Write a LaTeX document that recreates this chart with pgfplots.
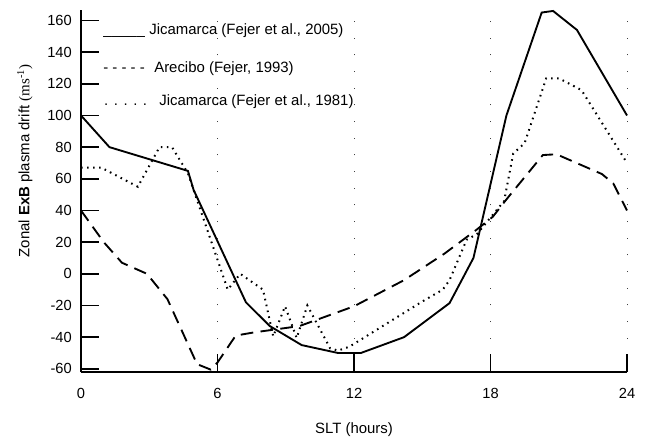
\documentclass[border=0pt]{standalone}
\usepackage{fontspec}
\setmainfont{Liberation Sans}
\newfontfamily\seriffont{Liberation Serif}
\usepackage{pgfplots}
\pgfplotsset{compat=1.18}
\begin{document}
\fontsize{11.2}{13}\selectfont
\begin{tikzpicture}
\path[use as bounding box] (-60.75pt,-48.75pt) rectangle (423pt,279pt);
\begin{axis}[
  at={(0pt,0pt)}, anchor=south west,
  scale only axis, width=409.5pt, height=271.5pt,
  xmin=0, xmax=24, ymin=-62, ymax=166.6,
  axis x line=bottom, axis y line=left,
  axis line style={-, line width=1.6pt},
  xtick={0,6,12,18,24}, ytick={-60,-40,...,160},
  tick align=inside, major tick length=13.5pt,
  tick style={line width=1.4pt, black},
  xmajorgrids,
  grid style={black!75, line width=0.7pt, dash pattern=on 0.7pt off 11.8pt},
  ticklabel style={font=\fontsize{11}{13}\selectfont},
  xticklabel style={yshift=-8pt},
  yticklabel style={xshift=-3pt},
  /pgf/number format/assume math mode=true,
  xlabel={SLT (hours)},
  xlabel style={at={(axis description cs:0.5,-0.16)}, anchor=center},
  ylabel={Zonal \textbf{ExB} plasma drift {\seriffont(ms\textsuperscript{-1})}},
  ylabel style={at={(axis description cs:-0.1026,0.583)}, anchor=center},
  clip=false,
]
% Jicamarca (Fejer et al., 2005)
\addplot[black, line width=1.4pt] coordinates {
 (0,100) (1.25,80) (4.7,65) (4.95,53) (7.25,-18) (8.3,-33) (9.7,-45)
 (11.3,-50) (12.3,-50) (14.2,-40) (16.2,-18.5) (17.25,10) (18.7,100)
 (20.25,165) (20.75,166) (21.8,154) (24,100)
};
% Arecibo (Fejer, 1993)
\addplot[black, line width=1.4pt, dash pattern=on 9.5pt off 5.5pt] coordinates {
 (0,40) (1.0,20) (1.8,7) (2.9,0) (3.8,-16) (5.1,-57) (5.7,-60.5) (6.0,-56)
 (6.8,-39) (7.6,-37) (9.6,-33) (12,-20.5) (14.2,-4) (16,13) (17.4,28)
 (18.1,36) (18.7,47) (20.3,75) (20.9,75.5) (22.9,63) (23.4,57) (24,40)
};
% Jicamarca (Fejer et al., 1981)
\addplot[black, line width=1.5pt, dash pattern=on 1.2pt off 3.3pt] coordinates {
 (0,67) (0.9,67) (2.5,55) (3.45,80) (4.0,80) (4.7,63.5) (6.45,-10) (7.0,0)
 (8.0,-10) (8.45,-39.5) (8.97,-20.5) (9.48,-40.5) (9.95,-20) (10.95,-47)
 (11.3,-48.5) (11.8,-46) (15.0,-17.5) (15.9,-10) (16.2,-4) (16.95,21.5)
 (17.4,25) (18.6,46) (19.0,76) (19.5,82.5) (20.45,123.5) (21.0,123.5)
 (22.0,116) (24,70)
};
\node[anchor=base west, inner sep=0pt] at (axis cs:0.97,151.2) {\_\_\_\_\_};
\node[anchor=base west, inner sep=0pt] at (axis cs:2.99,151.2) {Jicamarca (Fejer et al., 2005)};
\node[anchor=base west, inner sep=0pt] at (axis cs:0.97,127.2) {- - - - -};
\node[anchor=base west, inner sep=0pt] at (axis cs:3.21,127.2) {Arecibo (Fejer, 1993)};
\node[anchor=base west, inner sep=0pt] at (axis cs:1.01,106.2) {. . . . .};
\node[anchor=base west, inner sep=0pt] at (axis cs:3.43,106.2) {Jicamarca (Fejer et al., 1981)};
\end{axis}
\end{tikzpicture}
\end{document}
